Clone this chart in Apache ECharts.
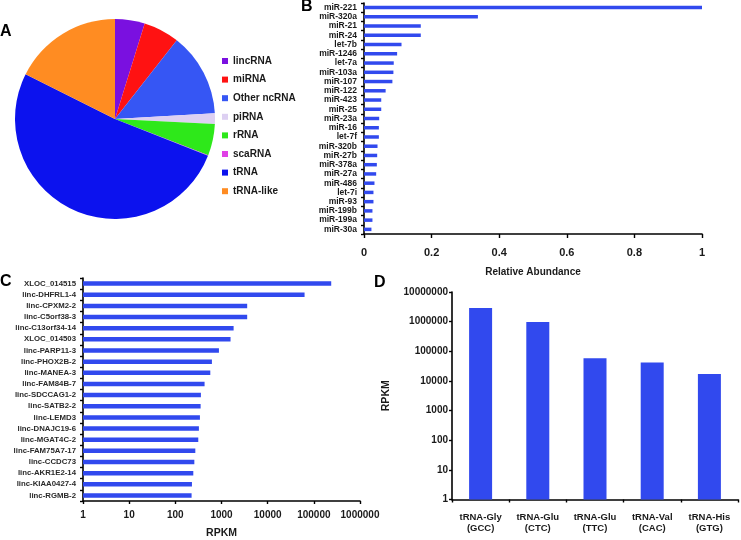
<!DOCTYPE html>
<html><head><meta charset="utf-8">
<script src="https://cdn.jsdelivr.net/npm/echarts@6/dist/echarts.min.js"></script>
<style>html,body{margin:0;padding:0;background:#fff}#c{width:741px;height:540px}</style>
</head><body><div id="c"></div>
<script>
// Panel A: ncRNA composition (%)
const pieNames = ['lincRNA','miRNA','Other ncRNA','piRNA','rRNA','scaRNA','tRNA','tRNA-like'];
const pieValues = [4.8, 5.8, 13.5, 1.7, 5.1, 0.1, 51.4, 17.6];
const pieColors = ['#7a10e0','#ff1212','#3656f4','#ddd0f2','#2ee81a','#e040e6','#0c12ee','#ff8c22'];

// Panel B: miRNA relative abundance
const mirNames = ['miR-221','miR-320a','miR-21','miR-24','let-7b','miR-1246','let-7a','miR-103a','miR-107','miR-122','miR-423','miR-25','miR-23a','miR-16','let-7f','miR-320b','miR-27b','miR-378a','miR-27a','miR-486','let-7i','miR-93','miR-199b','miR-199a','miR-30a'];
const mirValues = [1.0, 0.337, 0.168, 0.168, 0.111, 0.098, 0.088, 0.087, 0.084, 0.064, 0.051, 0.051, 0.045, 0.044, 0.044, 0.040, 0.039, 0.038, 0.036, 0.031, 0.028, 0.028, 0.025, 0.025, 0.022];
const mirTicks = [0, 0.2, 0.4, 0.6, 0.8, 1];

// Panel C: lincRNA RPKM
const lincNames = ['XLOC_014515','linc-DHFRL1-4','linc-CPXM2-2','linc-C5orf38-3','linc-C13orf34-14','XLOC_014503','linc-PARP11-3','linc-PHOX2B-2','linc-MANEA-3','linc-FAM84B-7','linc-SDCCAG1-2','linc-SATB2-2','linc-LEMD3','linc-DNAJC19-6','linc-MGAT4C-2','linc-FAM75A7-17','linc-CCDC73','linc-AKR1E2-14','linc-KIAA0427-4','linc-RGMB-2'];
const lincValues = [238000, 63000, 3600, 3600, 1830, 1570, 880, 620, 572, 430, 358, 353, 341, 324, 314, 271, 258, 245, 229, 225];

// Panel D: tRNA RPKM
const trnaNames = ['tRNA-Gly (GCC)','tRNA-Glu (CTC)','tRNA-Glu (TTC)','tRNA-Val (CAC)','tRNA-His (GTG)'];
const trnaValues = [2900000, 970000, 58000, 41600, 17200];

const FONT = "'Liberation Sans', Arial, sans-serif";
const BAR = '#3149ee';
const TXT = '#1a1a1a';
const axLine = {show: true, lineStyle: {color: '#000', width: 1.6}};
const numFmt = v => String(Math.round(v));

const chart = echarts.init(document.getElementById('c'), null, {renderer: 'canvas'});
chart.setOption({
  animation: false,
  textStyle: {fontFamily: FONT},
  graphic: [
    {type: 'text', left: 0, top: 24, style: {text: 'A', font: 'bold 16px ' + FONT, fill: '#000'}},
    {type: 'text', left: 301, top: -1, style: {text: 'B', font: 'bold 16px ' + FONT, fill: '#000'}},
    {type: 'text', left: 0, top: 274, style: {text: 'C', font: 'bold 16px ' + FONT, fill: '#000'}},
    {type: 'text', left: 374, top: 275, style: {text: 'D', font: 'bold 16px ' + FONT, fill: '#000'}}
  ],
  legend: {
    orient: 'vertical', left: 222, top: 55, padding: 0,
    itemWidth: 6, itemHeight: 6, itemGap: 6.6, icon: 'rect',
    textStyle: {fontSize: 10, fontWeight: 'bold', color: TXT, fontFamily: FONT, lineHeight: 12},
    data: pieNames
  },
  grid: [
    {left: 364, top: 3, width: 338, height: 231},
    {left: 83, top: 278, width: 277, height: 225},
    {left: 452, top: 292, width: 286, height: 207.5}
  ],
  xAxis: [
    {gridIndex: 0, type: 'value', min: 0, max: 1, interval: 0.2,
     axisLine: axLine, axisTick: {show: true, length: 4, lineStyle: {color: '#000', width: 1.4}},
     splitLine: {show: false},
     axisLabel: {margin: 13, fontSize: 11, fontWeight: 'bold', color: TXT,
       formatter: v => mirTicks.includes(+v.toFixed(1)) ? String(+v.toFixed(1)) : ''},
     name: 'Relative Abundance', nameLocation: 'middle', nameGap: 33,
     nameTextStyle: {fontSize: 10, fontWeight: 'bold', color: TXT}},
    {gridIndex: 1, type: 'log', logBase: 10, min: 1, max: 1000000,
     axisLine: axLine, axisTick: {show: true, length: 3, lineStyle: {color: '#000', width: 1.4}},
     splitLine: {show: false}, minorTick: {show: false},
     axisLabel: {margin: 9, fontSize: 10, fontWeight: 'bold', color: TXT, formatter: numFmt},
     name: 'RPKM', nameLocation: 'middle', nameGap: 27,
     nameTextStyle: {fontSize: 10.5, fontWeight: 'bold', color: TXT}},
    {gridIndex: 2, type: 'category', data: trnaNames,
     axisLine: axLine, axisTick: {show: true, length: 3, lineStyle: {color: '#000', width: 1.4}},
     axisLabel: {interval: 0, margin: 12, fontSize: 9.5, fontWeight: 'bold', color: TXT, lineHeight: 11,
       formatter: s => s.replace(' ', '\n')}}
  ],
  yAxis: [
    {gridIndex: 0, type: 'category', data: mirNames, inverse: true,
     axisLine: axLine, axisTick: {show: true, length: 3, interval: 0, lineStyle: {color: '#000', width: 1.4}},
     axisLabel: {interval: 0, margin: 7, fontSize: 8.5, fontWeight: 'bold', color: TXT}},
    {gridIndex: 1, type: 'category', data: lincNames, inverse: true,
     axisLine: axLine, axisTick: {show: true, length: 3, interval: 0, lineStyle: {color: '#000', width: 1.4}},
     axisLabel: {interval: 0, margin: 7, fontSize: 7.8, fontWeight: 'bold', color: '#2a2a2a'}},
    {gridIndex: 2, type: 'log', logBase: 10, min: 1, max: 10000000,
     axisLine: axLine, axisTick: {show: true, length: 3, lineStyle: {color: '#000', width: 1.4}},
     splitLine: {show: false}, minorTick: {show: false},
     axisLabel: {margin: 4, fontSize: 10, fontWeight: 'bold', color: TXT, formatter: numFmt},
     name: 'RPKM', nameLocation: 'middle', nameGap: 60, nameRotate: 90,
     nameTextStyle: {fontSize: 10.5, fontWeight: 'bold', color: TXT}}
  ],
  series: [
    {type: 'pie', center: [115, 119], radius: 100, startAngle: 90, clockwise: true,
     color: pieColors, label: {show: false}, labelLine: {show: false},
     emphasis: {disabled: true}, itemStyle: {borderWidth: 0},
     data: pieNames.map((n, i) => ({name: n, value: pieValues[i]}))},
    {type: 'bar', xAxisIndex: 0, yAxisIndex: 0, data: mirValues, barWidth: 3.5,
     itemStyle: {color: BAR}},
    {type: 'bar', xAxisIndex: 1, yAxisIndex: 1, data: lincValues, barWidth: 4.5,
     itemStyle: {color: BAR}},
    {type: 'bar', xAxisIndex: 2, yAxisIndex: 2, data: trnaValues, barWidth: 23,
     itemStyle: {color: BAR}}
  ]
});
</script>
</body></html>
